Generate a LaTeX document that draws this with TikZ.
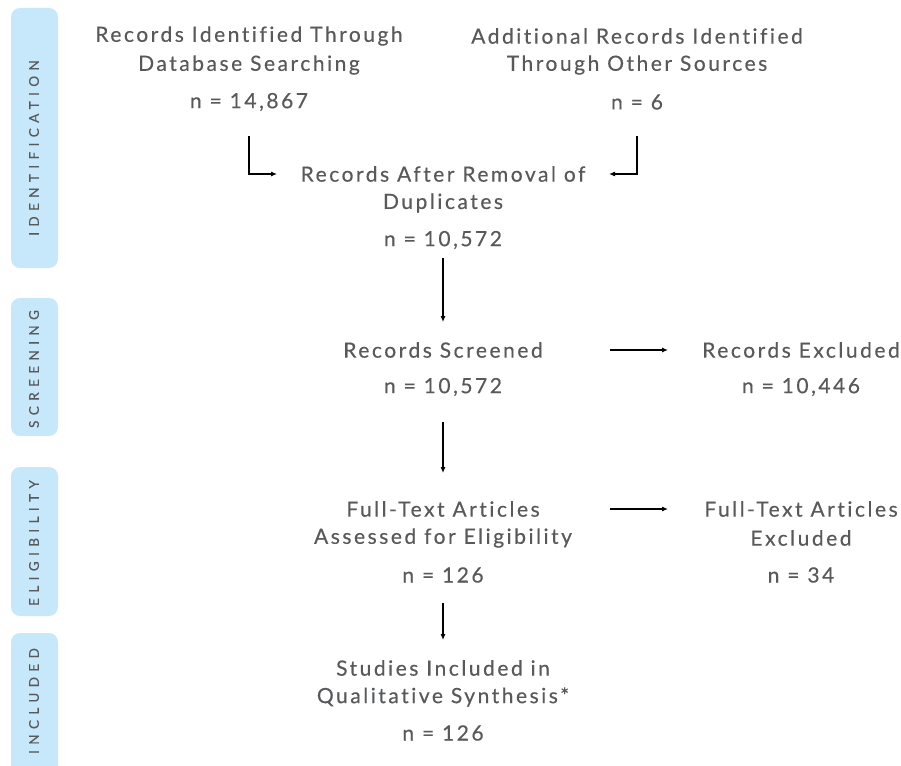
\documentclass[tikz,border=0pt]{standalone}
\usepackage{fontspec}
\setmainfont{Lato}[LetterSpace=12, Ligatures=NoCommon, FakeBold=0.4]
\newfontfamily\bandfont{Lato}[LetterSpace=40, FakeBold=0.25]
\usetikzlibrary{arrows.meta}
\definecolor{txt}{HTML}{58595B}
\definecolor{band}{HTML}{C7E8FB}
\begin{document}
\begin{tikzpicture}[x=1pt,y=-1pt,
  lbl/.style={font=\fontsize{21}{26}\selectfont, text=txt, inner sep=0pt, align=center},
  bandlbl/.style={font=\bandfont\fontsize{13.5}{15}\selectfont, text=txt, rotate=90, inner sep=0pt},
  arr/.style={-{Latex[length=6pt,width=5pt]}, line width=1.1pt, black}]
\useasboundingbox (0,0) rectangle (901,765);
\begin{scope}
\clip (0,0) rectangle (901,765);
\fill[band, rounded corners=9pt] (11,8) rectangle (58,268);
\fill[band, rounded corners=9pt] (11,298) rectangle (58,436);
\fill[band, rounded corners=9pt] (11,467) rectangle (58,616);
\fill[band, rounded corners=9pt] (11,633) rectangle (58,790);
\end{scope}
\node[bandlbl] (bid) at (34,148) {IDENTIFICATION};
\node[bandlbl] (bsc) at (34,369) {SCREENING};
\node[bandlbl] (bel) at (34,543) {ELIGIBILITY};
\node[bandlbl] (bin) at (34,701) {INCLUDED};

\node[lbl] (db1) at (249,36) {Records Identified Through};
\node[lbl] (db2) at (249,65) {Database Searching};
\node[lbl] (dbn) at (249,102) {n = 14,867};
\node[lbl] (oth1) at (637,36) {Additional Records Identified};
\node[lbl] (oth2) at (637,65) {Through Other Sources};
\node[lbl] (othn) at (637,102) {n = 6};
\node[lbl] (dup1) at (443,174) {Records After Removal of};
\node[lbl] (dup2) at (443,203) {Duplicates};
\node[lbl] (dupn) at (443,240) {n = 10,572};
\node[lbl] (scr) at (443,350) {Records Screened};
\node[lbl] (scrn) at (443,387) {n = 10,572};
\node[lbl] (exc) at (801,350) {Records Excluded};
\node[lbl] (excn) at (801,387) {n = 10,446};
\node[lbl] (fta1) at (443,509) {Full-Text Articles};
\node[lbl] (fta2) at (443,538) {Assessed for Eligibility};
\node[lbl] (ftan) at (443,575) {n = 126};
\node[lbl] (fte1) at (801,509) {Full-Text Articles};
\node[lbl] (fte2) at (801,538) {Excluded};
\node[lbl] (ften) at (801,575) {n = 34};
\node[lbl] (inc1) at (443,668) {Studies Included in};
\node[lbl] (inc2) at (443,697) {Qualitative Synthesis*};
\node[lbl] (incn) at (443,733) {n = 126};

\draw[arr] ([yshift=-34pt]dbn.center) |- ([xshift=-166pt]dup1.center);
\draw[arr] ([yshift=-34pt]othn.center) |- ([xshift=166pt]dup1.center);
\draw[arr] ([yshift=-18pt]dupn.center) -- ([yshift=28pt]scr.center);
\draw[arr] ([xshift=167pt]scr.center) -- ([xshift=-133pt]exc.center);
\draw[arr] ([yshift=-35pt]scrn.center) -- ([yshift=36pt]fta1.center);
\draw[arr] ([xshift=167pt]fta1.center) -- ([xshift=-133pt]fte1.center);
\draw[arr] ([yshift=-28pt]ftan.center) -- ([yshift=28pt]inc1.center);
\end{tikzpicture}
\end{document}
